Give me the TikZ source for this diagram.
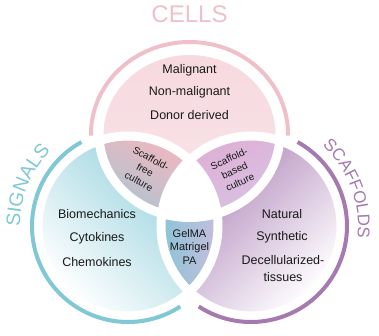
\documentclass[tikz,border=0pt]{standalone}
\usepackage{fontspec}
\setmainfont{Liberation Sans}
\usetikzlibrary{decorations.text}
\definecolor{cellring}{RGB}{240,192,202}
\definecolor{cellfill}{RGB}{247,220,226}
\definecolor{sigring}{RGB}{128,200,214}
\definecolor{sigfill}{RGB}{140,205,218}
\definecolor{scafring}{RGB}{164,122,176}
\definecolor{scaffill}{RGB}{168,124,180}
\definecolor{inktext}{RGB}{25,25,25}

\begin{document}
\begin{tikzpicture}[x=1pt,y=1pt,
  ring/.style={line width=4pt},
  gap/.style={draw=white, line width=9pt},
  item/.style={font=\fontsize{12.5}{14}\selectfont, text=inktext, inner sep=0pt},
  small/.style={font=\fontsize{10}{13}\selectfont, text=inktext, align=center, inner sep=0pt},
  title/.style={font=\fontsize{24}{24}\selectfont, inner sep=0pt}]
  \useasboundingbox (0,0) rectangle (379,336);
  % centres
  \coordinate (cells) at (189.5,202);
  \coordinate (signals) at (128,110);
  \coordinate (scaffolds) at (251,110);
  \def\cellshape{(cells) ellipse[x radius=90.5, y radius=83.5]}

  % discs
  \shade[top color=cellfill!90!cellring, bottom color=cellfill!75!white] \cellshape;
  \shade[top color=sigfill, bottom color=white, shading angle=-45] (signals) circle[radius=90];
  \shade[top color=scaffill, bottom color=white, shading angle=45] (scaffolds) circle[radius=90];

  % overlaps
  \begin{scope}
    \clip \cellshape;
    \clip (signals) circle[radius=90];
    \shade[top color={rgb,255:red,238;green,184;blue,192}, bottom color={rgb,255:red,160;green,198;blue,212}, shading angle=-30] (95,105) rectangle (195,195);
  \end{scope}
  \begin{scope}
    \clip \cellshape;
    \clip (scaffolds) circle[radius=90];
    \shade[top color={rgb,255:red,222;green,176;blue,214}, bottom color={rgb,255:red,214;green,198;blue,230}, shading angle=30] (185,105) rectangle (285,195);
  \end{scope}
  \begin{scope}
    \clip (signals) circle[radius=90];
    \clip (scaffolds) circle[radius=90];
    \shade[left color={rgb,255:red,128;green,198;blue,214}, right color={rgb,255:red,208;green,188;blue,222}] (150,35) rectangle (229,180);
  \end{scope}
  \begin{scope}
    \clip \cellshape;
    \clip (signals) circle[radius=90];
    \fill[white] (scaffolds) circle[radius=90];
  \end{scope}

  % white gaps
  \draw[gap] \cellshape (signals) circle[radius=90] (scaffolds) circle[radius=90];

  % outer rings
  \draw[ring, cellring] (cells) ++(-1:98.5 and 92) arc[start angle=-1, end angle=181, x radius=98.5, y radius=92];
  \draw[ring, sigring] (signals) ++(119:96) arc[start angle=119, end angle=303, radius=96];
  \draw[ring, scafring] (scaffolds) ++(-123:96) arc[start angle=-123, end angle=61, radius=96];

  % titles
  \node[title, text=cellring] (tcells) at (189.5,322) {CELLS};
  \path[decorate, decoration={text along path, text align=center, text color=sigring,
    text={|\fontsize{19.5}{19.5}\selectfont|SIGNALS}}]
    (signals) ++(208:108) arc[start angle=208, end angle=108, radius=108];
  \path[decorate, decoration={text along path, text align=center, text color=scafring,
    text={|\fontsize{17}{17}\selectfont|SCAFFOLDS}}]
    (scaffolds) ++(71:107) arc[start angle=71, end angle=-29, radius=107];

  % cells
  \node[item] (malig) at (189.5,266) {Malignant};
  \node[item] (nonmalig) at (189.5,244) {Non-malignant};
  \node[item] (donor) at (189.5,221) {Donor derived};
  % signals
  \node[item] (biomech) at (97,122) {Biomechanics};
  \node[item] (cytok) at (97,98) {Cytokines};
  \node[item] (chemok) at (97,74) {Chemokines};
  % scaffolds
  \node[item] (natural) at (282,122) {Natural};
  \node[item] (synth) at (282,99) {Synthetic};
  \node[item, align=center] (decell) at (283,67) {Decellularized-\\[3pt]tissues};
  % overlaps
  \node[small, font=\fontsize{11}{13.5}\selectfont] (gel) at (189.5,89) {GelMA\\Matrigel\\PA};
  \node[small, rotate=-28] (sfree) at (145,166) {Scaffold-\\free\\culture};
  \node[small, rotate=25] (sbased) at (234.5,165.5) {Scaffold-\\based\\culture};
\end{tikzpicture}
\end{document}
